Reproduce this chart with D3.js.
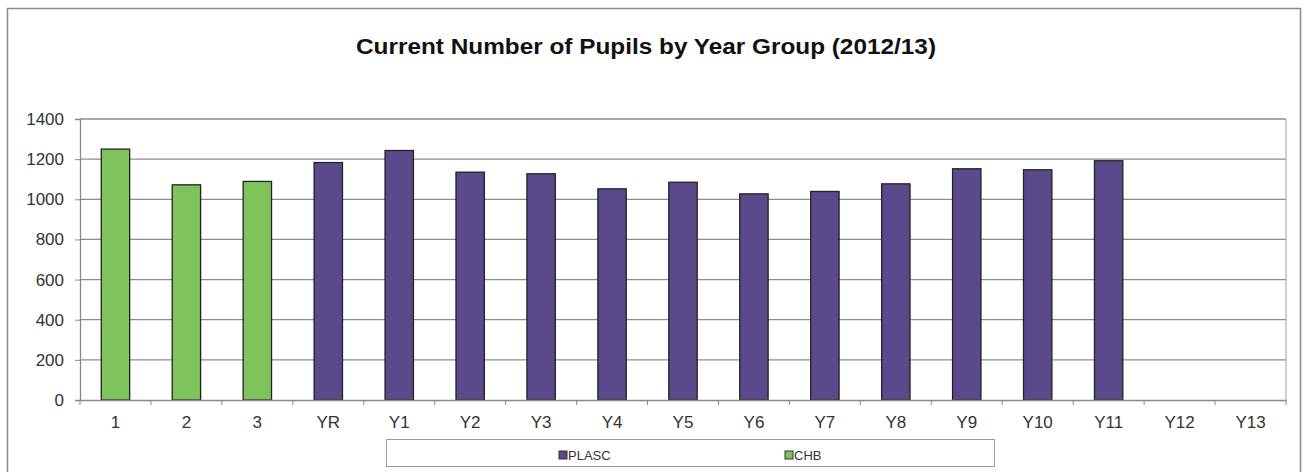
<!DOCTYPE html>
<html>
<head>
<meta charset="utf-8">
<script src="https://cdn.jsdelivr.net/npm/d3@7"></script>
<style>
  body { margin: 0; background: #fff; }
  text { font-family: "Liberation Sans", Arial, sans-serif; }
</style>
</head>
<body>
<svg width="1305" height="472"></svg>
<script>
// year groups and pupil counts
let categories = ["1", "2", "3", "YR", "Y1", "Y2", "Y3", "Y4", "Y5", "Y6", "Y7", "Y8", "Y9", "Y10", "Y11", "Y12", "Y13"];
let chbValues = [1250, 1072, 1089, null, null, null, null, null, null, null, null, null, null, null, null, null, null];
let plascValues = [null, null, null, 1183, 1243, 1135, 1127, 1052, 1085, 1027, 1039, 1077, 1152, 1147, 1192, null, null];
let yTicks = [0, 200, 400, 600, 800, 1000, 1200, 1400];
let seriesNames = ["PLASC", "CHB"];
let seriesColors = {PLASC: "#5b4a8b", CHB: "#7ec35c"};

var svg = d3.select("svg");

// outer frame
svg.append("rect")
    .attr("x", 7.5).attr("y", 8.5)
    .attr("width", 1293).attr("height", 480)
    .attr("fill", "none")
    .attr("stroke", "#8a8a8a")
    .attr("stroke-width", 1.5);

var margin = {left: 80, right: 19, top: 119, bottom: 72},
    width = 1305 - margin.left - margin.right,
    height = 472 - margin.top - margin.bottom;

var g = svg.append("g").attr("transform", "translate(" + margin.left + "," + margin.top + ")");

var x = d3.scaleBand().domain(categories).range([0, width]).paddingInner(0.6).paddingOuter(0.3);
var xOuter = d3.scaleBand().domain(categories).range([0, width]);
var y = d3.scaleLinear().domain([0, 1400]).range([height, 0]);

// gridlines
g.append("g")
    .selectAll("line")
    .data(yTicks.slice(1))
    .enter().append("line")
    .attr("x1", 0).attr("x2", width)
    .attr("y1", d => y(d)).attr("y2", d => y(d))
    .attr("stroke", "#8c8c8c")
    .attr("stroke-width", 1.3);

// right border of plot
g.append("line")
    .attr("x1", width).attr("x2", width)
    .attr("y1", 0).attr("y2", height)
    .attr("stroke", "#a0a0a0");

// bars
function drawBars(values, name){
    g.append("g")
        .selectAll("rect")
        .data(categories.map((c, i) => ({c: c, v: values[i]})).filter(d => d.v != null))
        .enter().append("rect")
        .attr("x", d => x(d.c))
        .attr("y", d => y(d.v))
        .attr("width", x.bandwidth())
        .attr("height", d => height - y(d.v))
        .attr("fill", seriesColors[name])
        .attr("stroke", "#222")
        .attr("stroke-width", 1.3);
}
drawBars(chbValues, "CHB");
drawBars(plascValues, "PLASC");

// y axis
var yAxis = g.append("g")
    .call(d3.axisLeft(y).tickValues(yTicks).tickFormat(d3.format("d")).tickSize(5).tickPadding(11));
yAxis.select(".domain").attr("stroke", "#888").attr("stroke-width", 1.3);
yAxis.selectAll(".tick line").attr("stroke", "#888");
yAxis.selectAll("text").attr("font-size", 17).attr("fill", "#333");

// x axis
var xAxis = g.append("g")
    .attr("transform", "translate(0," + height + ")")
    .call(d3.axisBottom(xOuter).tickSize(0).tickPadding(16));
xAxis.select(".domain").attr("stroke", "#888").attr("stroke-width", 1.3);
xAxis.selectAll("text").attr("font-size", 17).attr("fill", "#333");

// category separator ticks
g.append("g")
    .selectAll("line")
    .data(categories.concat(["end"]))
    .enter().append("line")
    .attr("x1", (d, i) => i * xOuter.step())
    .attr("x2", (d, i) => i * xOuter.step())
    .attr("y1", height).attr("y2", height + 5)
    .attr("stroke", "#888");

// title
svg.append("text")
    .attr("x", 646).attr("y", 54)
    .attr("text-anchor", "middle")
    .attr("font-size", 22)
    .attr("font-weight", "bold")
    .attr("fill", "#111")
    .attr("textLength", 580)
    .attr("lengthAdjust", "spacingAndGlyphs")
    .text("Current Number of Pupils by Year Group (2012/13)");

// legend
var legend = svg.append("g");
legend.append("rect")
    .attr("x", 386.5).attr("y", 439.5)
    .attr("width", 608).attr("height", 27)
    .attr("fill", "#fff")
    .attr("stroke", "#999");
var legendX = d3.scalePoint().domain(seriesNames).range([563, 789]);
var item = legend.selectAll("g.item")
    .data(seriesNames)
    .enter().append("g")
    .attr("class", "item")
    .attr("transform", d => "translate(" + legendX(d) + ",455)");
item.append("rect")
    .attr("x", -4).attr("y", -4)
    .attr("width", 8).attr("height", 8)
    .attr("fill", d => seriesColors[d])
    .attr("stroke", "#333");
item.append("text")
    .attr("x", 5).attr("y", 5)
    .attr("font-size", 13)
    .attr("fill", "#333")
    .text(d => d);
</script>
</body>
</html>
